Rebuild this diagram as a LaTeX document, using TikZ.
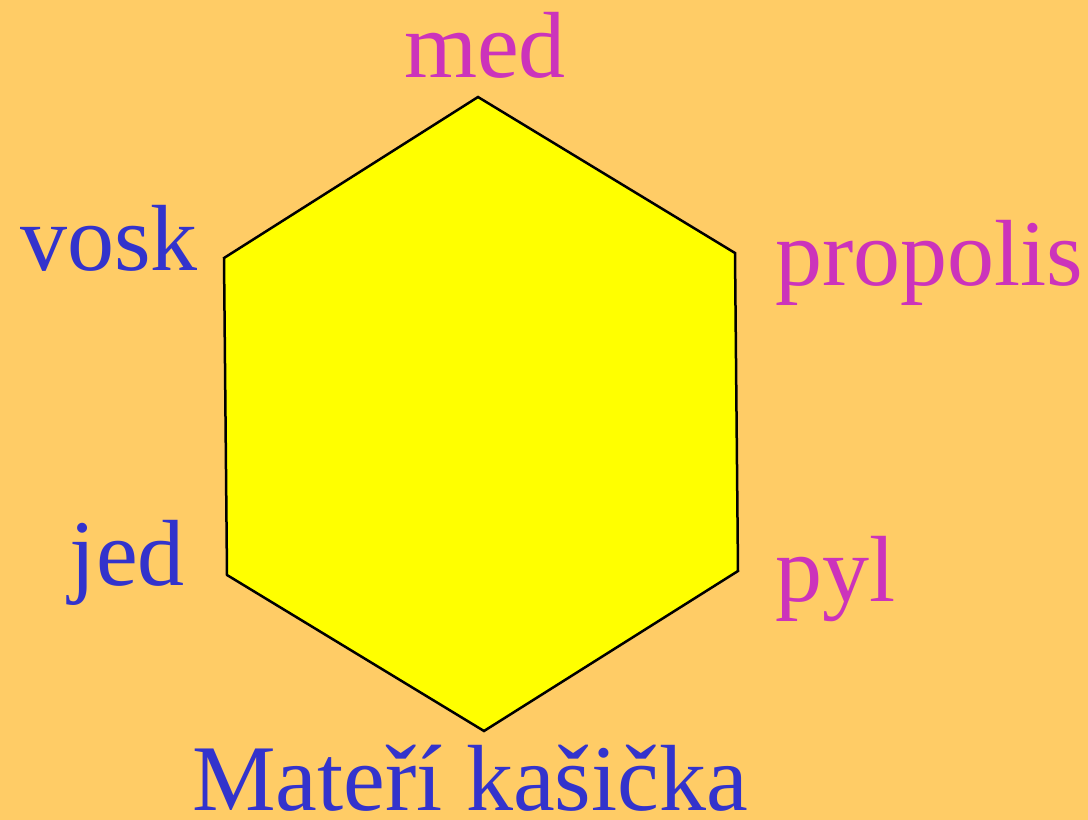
\documentclass[tikz,border=0pt]{standalone}
\usepackage{fontspec}
\setmainfont{Liberation Serif}
\definecolor{bg}{HTML}{FFCC66}
\definecolor{hex}{HTML}{FFFF00}
\definecolor{pink}{HTML}{CC33BB}
\definecolor{blu}{HTML}{3333CC}
\begin{document}
\begin{tikzpicture}[x=1pt,y=-1pt,
  lbl/.style={inner sep=0pt,font=\fontsize{94}{100}\selectfont},
  pk/.style={lbl,text=pink},
  bl/.style={lbl,text=blu}]
\fill[bg] (0,0) rectangle (1088,820);
\useasboundingbox (0,0) rectangle (1088,820);
\coordinate (t) at (478,97);
\coordinate (ur) at (735,253);
\coordinate (lr) at (738,571);
\coordinate (b) at (484,731);
\coordinate (ll) at (227,575);
\coordinate (ul) at (224,258);
\draw[fill=hex,line width=2.5pt,line join=miter] (t)--(ur)--(lr)--(b)--(ll)--(ul)--cycle;
\node[pk,anchor=base] (med) at (485,77) {med};
\node[pk,anchor=base west] (propolis) at (775,285) {propolis};
\node[pk,anchor=base west] (pyl) at (775,601) {pyl};
\node[bl,anchor=base west] (vosk) at (20,270) {vosk};
\node[bl,anchor=base east] (jed) at (185,585) {jed};
\node[bl,anchor=base] (mk) at (470,810) {Mateří kašička};
\end{tikzpicture}
\end{document}
